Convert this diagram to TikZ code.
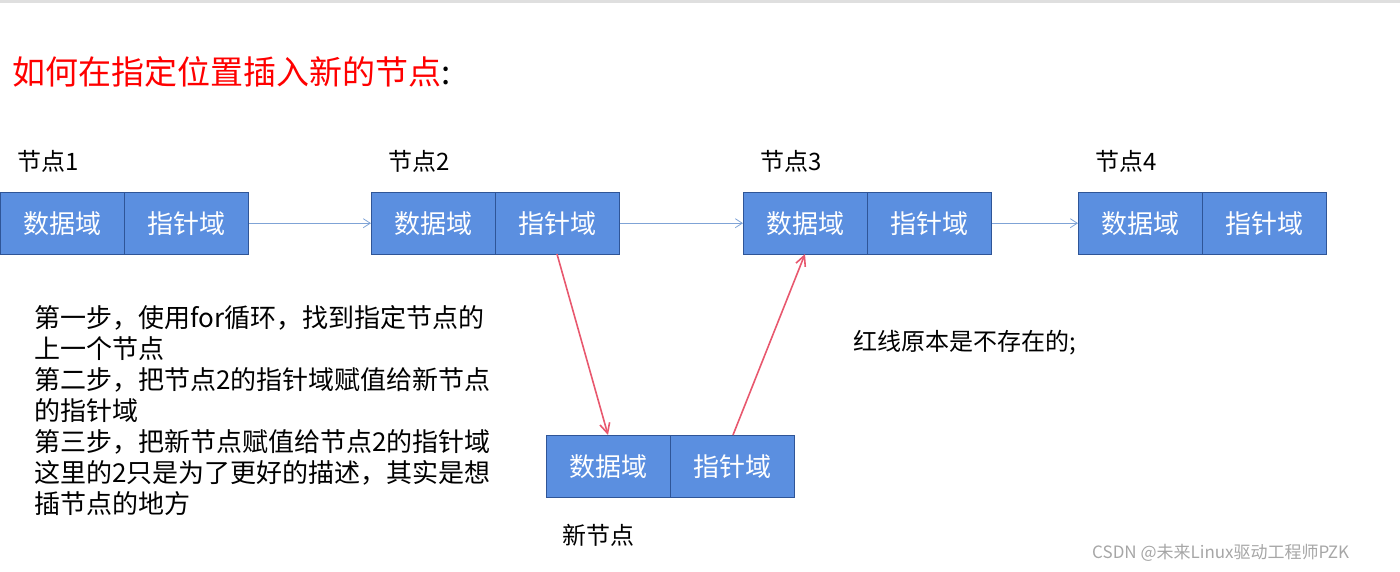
\documentclass[tikz,border=0pt]{standalone}
\usepackage{fontspec}
\setmainfont{Noto Sans CJK SC}
\usetikzlibrary{positioning,arrows.meta}
\tikzset{
  field/.style={draw=borderblue, fill=cellblue, text=white, minimum width=124pt,
    minimum height=62pt, inner sep=0pt, font=\fontsize{26}{26}\selectfont},
  link/.style={draw=linkblue, line width=0.8pt, -{Straight Barb[length=7pt,width=9pt]}},
  redlink/.style={draw=redline, line width=1.6pt, -{Straight Barb[length=10pt,width=10pt]}},
  caption/.style={anchor=west, inner sep=0pt, font=\fontsize{24}{24}\selectfont}
}
\definecolor{cellblue}{HTML}{5B8FE0}
\definecolor{borderblue}{HTML}{2F5597}
\definecolor{linkblue}{HTML}{7FA3D6}
\definecolor{redline}{HTML}{E8586E}
\begin{document}
\begin{tikzpicture}[x=1pt,y=-1pt]
    \useasboundingbox (0,0) rectangle (1400,572);
    \fill[gray!25] (0,0) rectangle (1400,3);
    \node[caption, text=red, font=\fontsize{33}{33}\selectfont] (title) at (12,72)
        {如何在指定位置插入新的节点\textcolor{black}{:}};
    \foreach \n/\x/\l in {1/0/节点1, 2/371/节点2, 3/743/节点3, 4/1078/节点4}
    {
        \node[field, anchor=north west] (d\n) at (\x,192) {数据域};
        \node[field, right=0pt of d\n] (p\n) {指针域};
        \node[caption] (l\n) at (\x+17,161) {\l};
    }
    \node[field, anchor=north west] (dn) at (546,435) {数据域};
    \node[field, right=0pt of dn] (pn) {指针域};
    \node[caption] (ln) at (562,535) {新节点};
    \draw[link] (p1) -- (d2);
    \draw[link] (p2) -- (d3);
    \draw[link] (p3) -- (d4);
    \coordinate (from2) at (557,254);
    \coordinate (tonew) at (608,435);
    \coordinate (fromnew) at (733,435);
    \coordinate (to3) at (805,254);
    \draw[redlink] (from2) -- (tonew);
    \draw[redlink] (fromnew) -- (to3);
    \node[caption, align=left, font=\fontsize{26}{31}\selectfont, anchor=north west] (steps) at (34,305)
        {第一步，使用for循环，找到指定节点的\\上一个节点\\第二步，把节点2的指针域赋值给新节点\\的指针域\\第三步，把新节点赋值给节点2的指针域\\这里的2只是为了更好的描述，其实是想\\插节点的地方};
    \node[caption] (note) at (853,343) {红线原本是不存在的;};
    \node[caption, text=gray!70, font=\fontsize{17}{17}\selectfont] (mark) at (1092,553) {CSDN @未来Linux驱动工程师PZK};
\end{tikzpicture}
\end{document}
